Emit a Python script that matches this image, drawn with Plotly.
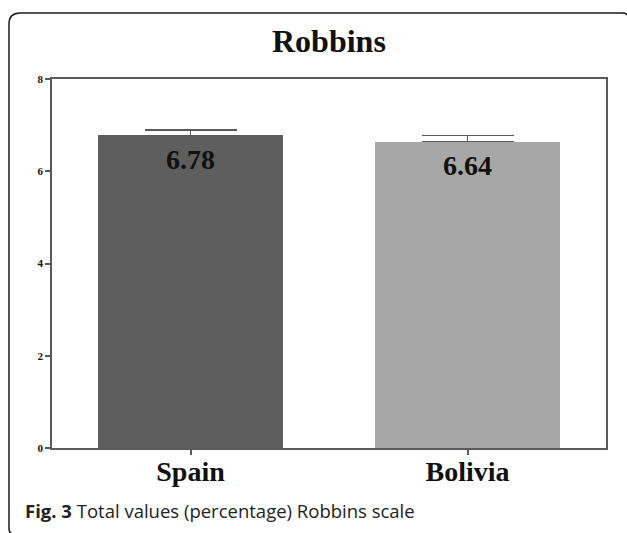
import plotly.graph_objects as go

# Data
countries = ["Spain", "Bolivia"]
totals = [6.78, 6.64]
errors = [0.11, 0.14]
bar_colors = ["#5e5e5e", "#a7a7a7"]
y_ticks = [0, 2, 4, 6, 8]

W, H = 627, 533
L, R, T, B = 52, 606, 79, 448  # plot area in pixels


def px_x(px):
    return (px - L) / (R - L)


def px_y(py):
    return (B - py) / (B - T)


SERIF = "Liberation Serif"
AXIS_COLOR = "#5a5a5a"

fig = go.Figure(
    go.Bar(
        x=countries,
        y=totals,
        marker=dict(color=bar_colors, line=dict(width=0)),
        width=0.667,
        error_y=dict(
            type="data",
            array=errors,
            symmetric=False,
            arrayminus=[0, 0],
            color=AXIS_COLOR,
            thickness=1.5,
            width=46,
        ),
        hoverinfo="skip",
    )
)

# Value labels inside the top of each bar
for c, v in zip(countries, totals):
    fig.add_annotation(
        x=c, y=v, xref="x", yref="y",
        text=f"<b>{v:.2f}</b>",
        showarrow=False, yanchor="middle", yshift=-24,
        font=dict(family=SERIF, size=28, color="#111111"),
    )

# Title
fig.add_annotation(
    x=0.5, y=px_y(41), xref="paper", yref="paper",
    text="<b>Robbins</b>", showarrow=False, yanchor="middle",
    font=dict(family=SERIF, size=32, color="#111111"),
)

# Caption
fig.add_annotation(
    x=px_x(23), y=px_y(510), xref="paper", yref="paper",
    text="<b>Fig. 3</b> Total values (percentage) Robbins scale",
    showarrow=False, xanchor="left", yanchor="middle",
    font=dict(family="Open Sans, sans-serif", size=18.5, color="#222222"),
)

# Rounded outer frame (right and bottom edges run just past the page border)
x0, y0, x1, y1 = px_x(9), px_y(13), px_x(628.5), px_y(534.5)
rx, ry = 11 / (R - L), 11 / (B - T)
rx2, ry2 = 6 / (R - L), 6 / (B - T)
path = (
    f"M {x0},{y0 - ry} "
    f"Q {x0},{y0} {x0 + rx},{y0} "
    f"L {x1 - rx2},{y0} "
    f"Q {x1},{y0} {x1},{y0 - ry2} "
    f"L {x1},{y1} "
    f"L {x0 + rx2},{y1} "
    f"Q {x0},{y1} {x0},{y1 + ry2} Z"
)
fig.add_shape(
    type="path", path=path, xref="paper", yref="paper",
    line=dict(color="#1a1a1a", width=1.5), layer="below",
)

fig.update_layout(
    width=W, height=H,
    margin=dict(l=L, r=W - R, t=T, b=H - B),
    paper_bgcolor="white", plot_bgcolor="white",
    showlegend=False,
    bargap=0,
)
fig.update_xaxes(
    range=[-0.5, 1.5],
    showline=True, linecolor=AXIS_COLOR, linewidth=1.5, mirror=True,
    ticks="outside", ticklen=5, tickcolor=AXIS_COLOR, tickwidth=1.5,
    tickfont=dict(family=SERIF, size=28, color="#111111"),
    tickprefix="<b>", ticksuffix="</b>",
    ticklabelstandoff=-7,
    showgrid=False, zeroline=False,
)
fig.update_yaxes(
    range=[0, 8], tickvals=y_ticks,
    ticktext=[f"<b>{t}</b>" for t in y_ticks],
    showline=True, linecolor=AXIS_COLOR, linewidth=1.5, mirror=True,
    ticks="outside", ticklen=5, tickcolor=AXIS_COLOR, tickwidth=1.5,
    tickfont=dict(family=SERIF, size=11, color="#111111"),
    showgrid=False, zeroline=False,
)

fig.write_html("out.html")
